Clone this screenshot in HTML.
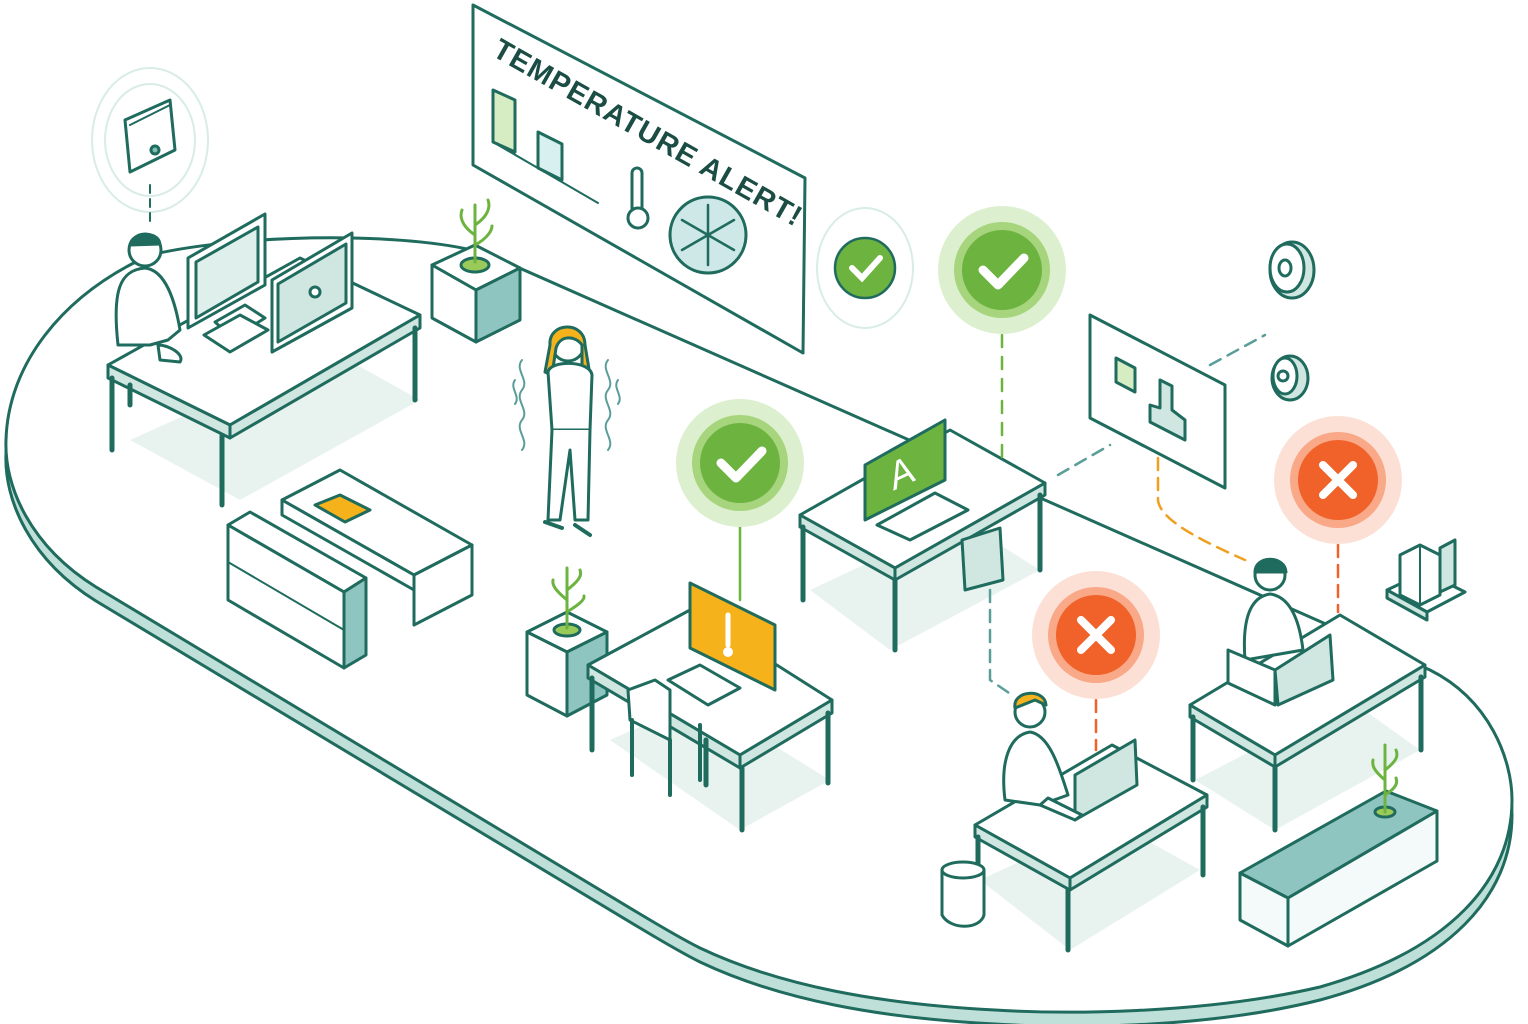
<!DOCTYPE html>
<html><head><meta charset="utf-8"><style>
html,body{margin:0;padding:0;background:#fff;}
svg{display:block}
text{font-family:"Liberation Sans",sans-serif}
</style></head><body>
<svg width="1528" height="1024" viewBox="0 0 1528 1024" xmlns="http://www.w3.org/2000/svg">
<g stroke="#1f6b5e" stroke-width="3" stroke-linejoin="round" stroke-linecap="round">
<!-- platform -->
<path d="M150,270 C250,247 420,247 490,270 L1430,685 C1490,715 1512,775 1512,815 C1512,895 1450,965 1320,1000 C1200,1030 1060,1028 995,1024 C880,1018 780,1000 700,962 C680,952 660,940 640,928 L96,601 C30,560 4,500 6,454 C8,380 60,310 150,270 Z" fill="#bfe0d9"/>
<path d="M150,255 C250,232 420,232 490,255 L1430,670 C1490,700 1512,760 1512,800 C1512,880 1450,950 1320,987 C1200,1015 1060,1014 995,1010 C880,1004 780,986 700,948 C680,938 660,926 640,914 L96,587 C30,546 4,486 6,440 C8,366 60,296 150,255 Z" fill="#fff"/>
<!-- floor shadows -->
<g stroke="none" fill="#e8f3f0">
<polygon points="130,440 240,500 420,400 330,350"/>
<polygon points="610,740 740,830 830,780 700,700"/>
<polygon points="810,590 890,650 1040,570 960,520"/>
<polygon points="980,880 1070,950 1200,870 1110,820"/>
<polygon points="1195,780 1275,830 1420,750 1350,700"/>
</g>
<!-- sensor top-left -->
<ellipse cx="150" cy="140" rx="58" ry="72" fill="none" stroke="#d8ece8" stroke-width="2"/>
<ellipse cx="150" cy="140" rx="45" ry="56" fill="none" stroke="#d8ece8" stroke-width="2"/>
<path d="M125,120 L170,100 L175,150 L130,172 Z" fill="#fff"/>
<path d="M130,125 L170,105" stroke-width="2"/>
<circle cx="155" cy="150" r="4" fill="#7fbfb6"/>
<path d="M150,185 L150,225" stroke-dasharray="8,6" stroke-width="2"/>
<!-- desk 1 -->
<polygon points="108,365 230,425 420,315 300,258" fill="#fff"/>
<polygon points="108,365 108,378 230,438 230,425" fill="#cfe6e1"/>
<polygon points="230,425 230,438 420,328 420,315" fill="#cfe6e1"/>
<path d="M112,378 L112,450 M222,436 L222,505 M415,328 L415,400 M130,385 L130,405" stroke-width="5"/>
<!-- person 1 -->
<circle cx="145" cy="250" r="16" fill="#fff"/>
<path d="M130,245 C132,232 158,230 160,244 Z" fill="#1f6b5e"/>
<path d="M118,345 C112,290 120,270 145,268 C165,270 175,300 180,330 L168,340 L150,345 Z" fill="#fff"/>
<path d="M158,345 C170,345 185,355 180,362 L160,360 Z" fill="#fff"/>
<!-- monitors 1 -->
<polygon points="188,258 265,214 265,285 188,328" fill="#fff"/>
<polygon points="196,262 258,227 258,282 196,318" fill="#dff0ec"/>
<polygon points="215,322 245,305 265,318 233,338" fill="#fff"/>
<polygon points="272,280 352,233 352,308 272,352" fill="#fff"/>
<polygon points="278,284 346,244 346,303 278,342" fill="#cfe6e1"/>
<circle cx="315" cy="292" r="5" fill="#fff"/>
<polygon points="204,335 240,315 268,330 230,352" fill="#fff"/>
<!-- plant box 1 -->
<polygon points="432,265 475,245 520,268 476,290" fill="#fff"/>
<polygon points="432,265 476,290 476,342 432,318" fill="#fff"/>
<polygon points="476,290 520,268 520,320 476,342" fill="#8fc5c0"/>
<ellipse cx="475" cy="265" rx="14" ry="7" fill="#9acb5a"/>
<path d="M475,262 L475,205 M475,235 C460,225 460,215 462,210 M475,225 C490,215 490,205 488,200 M475,245 C488,238 492,230 492,226" stroke="#6db33f" fill="none"/>
<!-- sign -->
<polygon points="473,5 805,178 803,353 473,165" fill="#fff"/>
<polygon points="493,90 515,100 515,152 493,142" fill="#d6ecc2"/>
<polygon points="538,132 562,144 562,180 538,168" fill="#d8f0ef"/>
<path d="M493,142 L598,203" stroke-width="2"/>
<rect x="632" y="168" width="10" height="45" rx="5" fill="#fff"/>
<circle cx="638" cy="218" r="10" fill="#fff"/>
<circle cx="708" cy="235" r="38" fill="#cde8e6"/>
<g stroke-width="2.5"><path d="M708,205 L708,265 M682,220 L734,250 M682,250 L734,220"/></g>
<text x="0" y="0" transform="translate(491,55) rotate(29.5)" font-size="29" font-weight="bold" fill="#1b4d45" stroke="none" letter-spacing="1">TEMPERATURE ALERT!</text>
<!-- cold woman -->
<circle cx="568" cy="345" r="16" fill="#fff"/>
<path d="M550,345 C548,322 585,320 585,345 L590,375 L582,370 L582,345 C575,335 560,335 556,348 L552,375 L545,372 Z" fill="#f6b21b"/>
<path d="M548,372 C550,360 590,360 592,375 L590,430 L552,430 Z" fill="#fff"/>
<path d="M552,430 L548,520 L560,520 L570,450 L575,520 L588,520 L590,430" fill="#fff"/>
<path d="M545,522 L562,528 M575,525 L590,535" stroke-width="4"/>
<path d="M522,360 c-8,10 8,20 0,30 c-8,10 8,20 0,30 c-8,10 8,20 0,30 M608,360 c-8,10 8,20 0,30 c-8,10 8,20 0,30 c-8,10 8,20 0,30 M515,380 c-6,8 6,16 0,24 M618,380 c-6,8 6,16 0,24" fill="none" stroke="#5a9e9a" stroke-width="2"/>
<!-- cabinet/desk left -->
<polygon points="282,500 340,470 472,545 414,575" fill="#fff"/>
<polygon points="414,575 472,545 472,595 414,625" fill="#fff"/>
<polygon points="282,500 414,575 414,590 282,515" fill="#fff"/>
<polygon points="315,505 340,495 370,510 345,522" fill="#f6b21b"/>
<polygon points="228,525 250,512 366,578 344,592" fill="#fff"/>
<polygon points="228,525 344,592 344,668 228,600" fill="#fff"/>
<polygon points="344,592 366,578 366,655 344,668" fill="#8fc5c0"/>
<path d="M228,562 L344,630" stroke-width="2"/>
<!-- plant box 2 -->
<polygon points="527,632 567,612 607,632 567,652" fill="#fff"/>
<polygon points="527,632 567,652 567,716 527,695" fill="#fff"/>
<polygon points="567,652 607,632 607,695 567,716" fill="#8fc5c0"/>
<ellipse cx="567" cy="630" rx="13" ry="6" fill="#9acb5a"/>
<path d="M567,628 L567,568 M567,600 C555,590 552,585 553,580 M567,590 C580,580 582,575 580,570 M567,612 C578,605 585,600 584,596" stroke="#6db33f" fill="none"/>
<!-- desk yellow -->
<polygon points="588,665 740,755 832,700 690,610" fill="#fff"/>
<polygon points="588,665 740,755 740,768 588,678" fill="#cfe6e1"/>
<polygon points="740,755 832,700 832,713 740,768" fill="#cfe6e1"/>
<path d="M592,678 L592,750 M742,768 L742,830 M828,713 L828,783 M706,740 L706,785" stroke-width="5"/>
<polygon points="690,583 775,625 775,690 690,648" fill="#f6b21b"/>
<path d="M728,615 L728,645" stroke="#fff" stroke-width="5"/>
<circle cx="728" cy="652" r="5" fill="#fff" stroke="none"/>
<polygon points="668,680 700,665 740,688 708,705" fill="#fff"/>
<polygon points="628,690 655,680 670,690 670,740 630,720" fill="#fff"/>
<path d="M632,720 L632,775 M670,740 L670,795 M700,725 L700,780" stroke-width="4"/>
<!-- desk green -->
<polygon points="800,515 895,568 1045,483 950,430" fill="#fff"/>
<polygon points="800,515 895,568 895,580 800,527" fill="#cfe6e1"/>
<polygon points="895,568 1045,483 1045,495 895,580" fill="#cfe6e1"/>
<path d="M803,527 L803,600 M895,580 L895,650 M1040,495 L1040,570" stroke-width="5"/>
<polygon points="865,465 945,420 945,480 865,520" fill="#6db33f"/>
<text x="0" y="0" transform="translate(895,490) rotate(-25)" font-size="38" fill="#fff" stroke="none" font-style="italic">A</text>
<polygon points="877,525 935,493 968,510 910,540" fill="#fff"/>
<polygon points="962,540 1000,528 1003,580 965,590" fill="#cfe6e1"/>
<!-- room display -->
<polygon points="1090,315 1225,385 1225,488 1090,418" fill="#fff"/>
<polygon points="1116,358 1135,368 1135,392 1116,382" fill="#d6ecc2"/>
<path d="M1160,380 L1172,386 L1172,410 L1185,420 L1185,440 L1150,422 L1150,405 L1160,408 Z" fill="#cfe6e1"/>
<ellipse cx="1292" cy="270" rx="22" ry="28" fill="#cfe6e1"/>
<ellipse cx="1287" cy="268" rx="17" ry="24" fill="#fff"/>
<ellipse cx="1285" cy="268" rx="6" ry="8" fill="#fff"/>
<ellipse cx="1290" cy="378" rx="18" ry="22" fill="#cfe6e1"/>
<ellipse cx="1285" cy="376" rx="12" ry="18" fill="#fff"/>
<circle cx="1283" cy="376" r="5" fill="#fff"/>
<path d="M1058,475 L1110,445 M1210,365 L1265,335" stroke="#5a9e9a" stroke-dasharray="12,8" stroke-width="2.5"/>
<path d="M1158,458 L1158,500 C1160,520 1200,540 1245,560" stroke="#f0a020" stroke-dasharray="12,8" stroke-width="2.5" fill="none"/>
<path d="M990,590 L990,680 L1012,695" stroke="#5a9e9a" stroke-dasharray="12,8" stroke-width="2.5" fill="none"/>
<path d="M1002,335 L1002,460" stroke="#6db33f" stroke-dasharray="12,10" stroke-width="2.5"/>
<path d="M740,527 L740,600" stroke="#6db33f" stroke-width="2.5"/>
<path d="M1096,700 L1096,750" stroke="#f0622a" stroke-dasharray="12,8" stroke-width="2.5"/>
<path d="M1338,545 L1338,612" stroke="#f0622a" stroke-dasharray="12,8" stroke-width="2.5"/>
<!-- desk right 1 -->
<polygon points="975,825 1070,878 1207,795 1112,745" fill="#fff"/>
<polygon points="975,825 1070,878 1070,890 975,837" fill="#cfe6e1"/>
<polygon points="1070,878 1207,795 1207,807 1070,890" fill="#cfe6e1"/>
<path d="M978,837 L978,900 M1068,890 L1068,950 M1203,807 L1203,875" stroke-width="5"/>
<circle cx="1030" cy="712" r="15" fill="#fff"/>
<path d="M1015,708 C1012,690 1045,688 1046,705 L1035,700 Z" fill="#f6b21b"/>
<path d="M1005,800 C1000,760 1010,735 1030,732 C1050,735 1060,770 1068,795 L1040,805 Z" fill="#fff"/>
<polygon points="1075,775 1135,740 1137,785 1075,820" fill="#cfe6e1"/>
<polygon points="1040,805 1075,820 1082,815 1048,798" fill="#fff"/>
<path d="M942,870 L942,915 C950,930 980,930 984,915 L984,870" fill="#fff"/>
<ellipse cx="963" cy="870" rx="21" ry="8" fill="#fff"/>
<!-- desk right 2 -->
<polygon points="1190,705 1275,755 1425,665 1340,615" fill="#fff"/>
<polygon points="1190,705 1275,755 1275,767 1190,717" fill="#cfe6e1"/>
<polygon points="1275,755 1425,665 1425,677 1275,767" fill="#cfe6e1"/>
<path d="M1193,717 L1193,780 M1275,767 L1275,830 M1421,677 L1421,750" stroke-width="5"/>
<circle cx="1270" cy="575" r="15" fill="#fff"/>
<path d="M1255,572 C1255,555 1285,555 1286,572 Z" fill="#1f6b5e"/>
<path d="M1245,660 C1242,620 1250,597 1270,594 C1292,597 1300,625 1303,650 Z" fill="#fff"/>
<polygon points="1228,650 1275,670 1275,705 1228,683" fill="#fff"/>
<polygon points="1275,670 1330,635 1333,680 1278,705" fill="#cfe6e1"/>
<!-- small building -->
<polygon points="1387,590 1425,572 1465,592 1427,612" fill="#fff"/>
<polygon points="1387,590 1427,612 1427,620 1387,598" fill="#cfe6e1"/>
<polygon points="1400,555 1420,545 1440,555 1440,595 1420,605 1400,595" fill="#fff"/>
<path d="M1420,545 L1420,605" stroke-width="2"/>
<polygon points="1440,548 1455,540 1455,585 1440,592" fill="#cfe6e1"/>
<!-- planter right -->
<polygon points="1240,873 1386,791 1437,811 1288,898" fill="#8fc5c0"/>
<polygon points="1240,873 1288,898 1288,946 1240,920" fill="#f4faf9"/>
<polygon points="1288,898 1437,811 1437,861 1288,946" fill="#f4faf9"/>
<ellipse cx="1385" cy="812" rx="10" ry="5" fill="#9acb5a"/>
<path d="M1385,812 L1385,745 M1385,780 C1373,770 1372,765 1373,760 M1385,770 C1398,760 1398,755 1396,750 M1385,795 C1396,788 1398,783 1396,778" stroke="#6db33f" fill="none"/>
</g>
<!-- status circles -->
<g>
<ellipse cx="865" cy="268" rx="48" ry="60" fill="none" stroke="#d8ece8" stroke-width="2"/>
<circle cx="865" cy="268" r="30" fill="#6db33f" stroke="#1f6b5e" stroke-width="2.5"/>
<path d="M852,268 L862,278 L880,258" stroke="#fff" stroke-width="6" fill="none" stroke-linecap="round"/>
<circle cx="1002" cy="270" r="64" fill="#dcefcf"/>
<circle cx="1002" cy="270" r="48" fill="#a6d57e"/>
<circle cx="1002" cy="270" r="40" fill="#6db33f"/>
<path d="M983,270 L998,285 L1024,258" stroke="#fff" stroke-width="9" fill="none" stroke-linecap="round" stroke-linejoin="round"/>
<circle cx="740" cy="463" r="64" fill="#dcefcf"/>
<circle cx="740" cy="463" r="48" fill="#a6d57e"/>
<circle cx="740" cy="463" r="40" fill="#6db33f"/>
<path d="M721,463 L736,478 L762,451" stroke="#fff" stroke-width="9" fill="none" stroke-linecap="round" stroke-linejoin="round"/>
<circle cx="1096" cy="635" r="64" fill="#fce0d6"/>
<circle cx="1096" cy="635" r="48" fill="#f9a888"/>
<circle cx="1096" cy="635" r="40" fill="#f0622a"/>
<path d="M1081,620 L1111,650 M1111,620 L1081,650" stroke="#fff" stroke-width="8" stroke-linecap="round"/>
<circle cx="1338" cy="480" r="64" fill="#fce0d6"/>
<circle cx="1338" cy="480" r="48" fill="#f9a888"/>
<circle cx="1338" cy="480" r="40" fill="#f0622a"/>
<path d="M1323,465 L1353,495 M1353,465 L1323,495" stroke="#fff" stroke-width="8" stroke-linecap="round"/>
</g>
</svg>
</body></html>
